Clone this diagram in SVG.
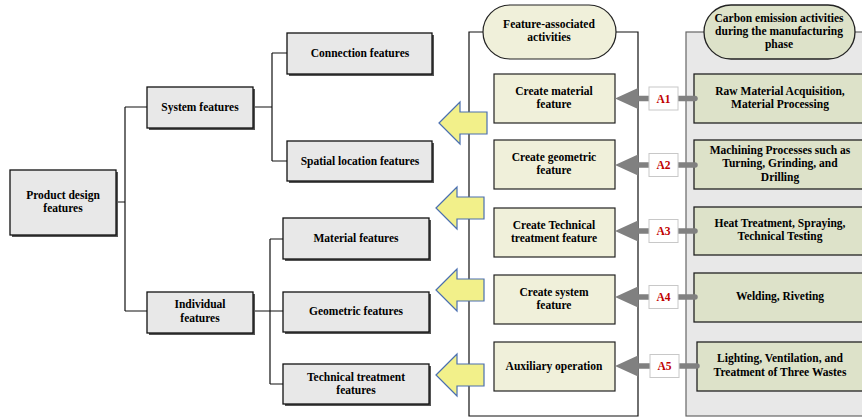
<svg xmlns="http://www.w3.org/2000/svg" width="862" height="417" viewBox="0 0 862 417">
<style>
text{font-family:"Liberation Serif","Times New Roman",serif;font-weight:bold;font-size:11.5px;text-anchor:middle;fill:#000}
.g{fill:#E8E8E8;stroke:#111;stroke-width:1.3}
.sh{fill:#555}
.y{fill:#F0F0DA;stroke:#222;stroke-width:1.2}
.o{fill:#DDE2C9;stroke:#222;stroke-width:1.3}
.ln{fill:none;stroke:#111;stroke-width:1.2}
.ya{fill:#F2F08A;stroke:#4A6FB0;stroke-width:1.2}
.gl{stroke:#808080;stroke-width:5.5;stroke-linecap:round}
.gh{fill:#808080}
.lb{fill:#fff;stroke:#C8C8C8;stroke-width:1}
.lt{fill:#C00000;font-size:11.5px}
</style>
<defs>
<path id="ya" d="M0,0 L21,-21 L21,-11 L48,-11 L48,11 L21,11 L21,21 Z"/>
</defs>
<g id="right-panel">
<rect x="686" y="32" width="190" height="384" fill="#E8E8E8" stroke="#666" stroke-width="1.2"/>
</g>
<g id="connectors">
<path class="ln" d="M116,202 H125 M125,107 V311 M125,107 H147 M125,311 H147"/>
<path class="ln" d="M253,107 H272 M272,53 V161 M272,53 H287 M272,161 H287"/>
<path class="ln" d="M253,311 H283 M270,239 V384 M270,239 H283 M270,384 H283"/>
<path class="ln" d="M483,32 H469 V416 H638 V32 H616"/>
</g>
<g id="middle-pill">
<rect x="483" y="5" width="133" height="54" rx="27" class="y"/>
<text x="549" y="28">Feature-associated</text>
<text x="549" y="41">activities</text>
</g>
<g id="right-pill">
<rect x="704" y="5" width="151" height="54" rx="27" class="o"/>
<text x="779" y="22">Carbon emission activities</text>
<text x="779" y="35">during the manufacturing</text>
<text x="779" y="48">phase</text>
</g>
<g id="n-product"><rect x="12" y="172" width="106" height="65" class="sh"/><rect x="10" y="170" width="106" height="65" class="g"/><text x="63" y="199">Product design</text><text x="63" y="212">features</text></g>
<g id="n-system"><rect x="149" y="89" width="106" height="41" class="sh"/><rect x="147" y="87" width="106" height="41" class="g"/><text x="200" y="111">System features</text></g>
<g id="n-individual"><rect x="149" y="294" width="106" height="41" class="sh"/><rect x="147" y="292" width="106" height="41" class="g"/><text x="200" y="308">Individual</text><text x="200" y="322">features</text></g>
<g id="n-connection"><rect x="289" y="35" width="145" height="41" class="sh"/><rect x="287" y="33" width="145" height="41" class="g"/><text x="360" y="57">Connection features</text></g>
<g id="n-spatial"><rect x="289" y="143" width="145" height="40" class="sh"/><rect x="287" y="141" width="145" height="40" class="g"/><text x="360" y="165">Spatial location features</text></g>
<g id="n-material"><rect x="285" y="220" width="146" height="41" class="sh"/><rect x="283" y="218" width="146" height="41" class="g"/><text x="356" y="242">Material features</text></g>
<g id="n-geometric"><rect x="285" y="294" width="146" height="40" class="sh"/><rect x="283" y="292" width="146" height="40" class="g"/><text x="356" y="315">Geometric features</text></g>
<g id="n-technical"><rect x="285" y="366" width="146" height="40" class="sh"/><rect x="283" y="364" width="146" height="40" class="g"/><text x="356" y="381">Technical treatment</text><text x="356" y="394">features</text></g>
<g id="yellow-arrows">
<use href="#ya" class="ya" transform="translate(439,123)"/>
<use href="#ya" class="ya" transform="translate(436,208)"/>
<use href="#ya" class="ya" transform="translate(436,290)"/>
<use href="#ya" class="ya" transform="translate(436,375)"/>
</g>
<g id="m1"><rect x="494" y="74" width="121" height="49" class="y"/><text x="554" y="95">Create material</text><text x="554" y="108">feature</text></g>
<g id="m2"><rect x="494" y="140" width="121" height="49" class="y"/><text x="554" y="161">Create geometric</text><text x="554" y="174">feature</text></g>
<g id="m3"><rect x="494" y="208" width="121" height="49" class="y"/><text x="554" y="229">Create Technical</text><text x="554" y="242">treatment feature</text></g>
<g id="m4"><rect x="494" y="275" width="121" height="49" class="y"/><text x="554" y="296">Create system</text><text x="554" y="309">feature</text></g>
<g id="m5"><rect x="494" y="342" width="121" height="49" class="y"/><text x="554" y="370">Auxiliary operation</text></g>
<g id="r1"><rect x="694" y="74" width="172" height="49" class="o"/><text x="780" y="95">Raw Material Acquisition,</text><text x="780" y="108">Material Processing</text></g>
<g id="r2"><rect x="694" y="140" width="172" height="49" class="o"/><text x="780" y="154">Machining Processes such as</text><text x="780" y="167">Turning, Grinding, and</text><text x="780" y="181">Drilling</text></g>
<g id="r3"><rect x="694" y="207" width="172" height="48" class="o"/><text x="780" y="227">Heat Treatment, Spraying,</text><text x="780" y="240">Technical Testing</text></g>
<g id="r4"><rect x="694" y="273" width="172" height="49" class="o"/><text x="780" y="300">Welding, Riveting</text></g>
<g id="r5"><rect x="697" y="342" width="169" height="49" class="o"/><text x="780" y="362">Lighting, Ventilation, and</text><text x="780" y="376">Treatment of Three Wastes</text></g>
<g id="gray-arrows">
<line class="gl" x1="636" y1="98.5" x2="695" y2="98.5"/><path class="gh" d="M615,98.5 L638,88 L638,109 Z"/>
<line class="gl" x1="636" y1="165" x2="695" y2="165"/><path class="gh" d="M615,165 L638,154.5 L638,175.5 Z"/>
<line class="gl" x1="636" y1="231" x2="695" y2="231"/><path class="gh" d="M615,231 L638,220.5 L638,241.5 Z"/>
<line class="gl" x1="636" y1="297" x2="695" y2="297"/><path class="gh" d="M615,297 L638,286.5 L638,307.5 Z"/>
<line class="gl" x1="636" y1="366" x2="697" y2="366"/><path class="gh" d="M615,366 L638,355.5 L638,376.5 Z"/>
</g>
<g id="labels">
<rect class="lb" x="649" y="87" width="29" height="23"/><text class="lt" x="663.5" y="102.5">A1</text>
<rect class="lb" x="649" y="153.5" width="29" height="23"/><text class="lt" x="663.5" y="169">A2</text>
<rect class="lb" x="649" y="219.5" width="29" height="23"/><text class="lt" x="663.5" y="235">A3</text>
<rect class="lb" x="649" y="285.5" width="29" height="23"/><text class="lt" x="663.5" y="301">A4</text>
<rect class="lb" x="650" y="354.5" width="29" height="23"/><text class="lt" x="664.5" y="370">A5</text>
</g>
</svg>
